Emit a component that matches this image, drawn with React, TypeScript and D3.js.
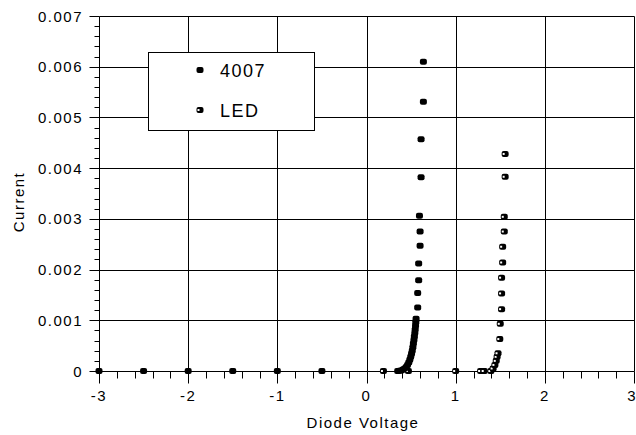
import React from "react";
import * as d3 from "d3";

// Series: [Diode Voltage (V), Current (A)]
const series4007: [number, number][] = [
  [-3, 0], [-2.5, 0], [-2, 0], [-1.5, 0], [-1, 0], [-0.5, 0],
  [0.35, 0], [0.37, 0.000003], [0.39, 0.00001], [0.41, 0.00003], [0.428, 0.00005],
  [0.445, 0.00008], [0.46, 0.00012], [0.474, 0.00017], [0.486, 0.00022],
  [0.496, 0.00028], [0.505, 0.00034], [0.513, 0.0004], [0.52, 0.00047],
  [0.526, 0.00054], [0.532, 0.00061], [0.537, 0.00068], [0.542, 0.00075],
  [0.546, 0.00082], [0.55, 0.00089], [0.553, 0.00096], [0.556, 0.00103],
  [0.574, 0.00125], [0.574, 0.00154], [0.585, 0.00179], [0.585, 0.00212],
  [0.601, 0.00247], [0.601, 0.00275], [0.594, 0.00306], [0.612, 0.00382],
  [0.612, 0.00457], [0.638, 0.00531], [0.638, 0.0061],
];

const seriesLED: [number, number][] = [
  [0.19, 0], [0.47, 0], [1.0, 0], [1.28, 0], [1.32, 0], [1.395, 0],
  [1.42, 0.00005], [1.44, 0.00012], [1.455, 0.0002], [1.465, 0.00028],
  [1.475, 0.00035], [1.495, 0.00063], [1.5, 0.00093], [1.515, 0.00122],
  [1.515, 0.00153], [1.515, 0.00184], [1.527, 0.00214], [1.527, 0.00245],
  [1.545, 0.00275], [1.545, 0.00304], [1.555, 0.00383], [1.555, 0.00428],
];

const xTicks = [-3, -2, -1, 0, 1, 2, 3];
const yTicks = [0, 0.001, 0.002, 0.003, 0.004, 0.005, 0.006, 0.007];
const yTickLabels = ["0", "0.001", "0.002", "0.003", "0.004", "0.005", "0.006", "0.007"];
const legendLabels = ["4007", "LED"];
const xTitle = "Diode Voltage";
const yTitle = "Current";

const W = 636;
const H = 435;
const FONT = "'Liberation Sans', Arial, sans-serif";

export default function App() {
  const x = d3.scaleLinear().domain([-3, 3]).range([99, 634]);
  const y = d3.scaleLinear().domain([0, 0.007]).range([371, 16]);
  const px = (v: number) => Math.round(v) + 0.5;

  const xMinor = d3.range(-3, 3.0001, 0.2).filter(
    (v) => Math.abs(v - Math.round(v)) > 1e-6
  );
  const yMinor = d3.range(0, 0.0070001, 0.0002).filter(
    (v) => Math.abs(v * 1000 - Math.round(v * 1000)) > 1e-6
  );

  const x0 = px(x(-3));
  const x1 = px(x(3));
  const y0 = px(y(0));
  const y1 = px(y(0.007));

  const marker = (cx: number, cy: number, led: boolean, key: string) => (
    <g key={key}>
      <rect x={cx - 3.5} y={cy - 3} width={7} height={6} rx={2} fill="#000" />
      {led && <rect x={cx - 2.5} y={cy - 1} width={2} height={2} fill="#fff" />}
    </g>
  );

  return (
    <svg
      width={W}
      height={H}
      style={{ position: "absolute", left: 0, top: 0, background: "#fff" }}
      fontFamily={FONT}
    >
      <rect x={0} y={0} width={W} height={H} fill="#fff" />
      {/* grid */}
      {xTicks.map((t) => (
        <line key={"gx" + t} x1={px(x(t))} x2={px(x(t))} y1={y1} y2={y0} stroke="#000" strokeWidth={1} />
      ))}
      {yTicks.map((t) => (
        <line key={"gy" + t} x1={x0} x2={x1} y1={px(y(t))} y2={px(y(t))} stroke="#000" strokeWidth={1} />
      ))}
      {/* x ticks */}
      {xTicks.map((t) => (
        <line key={"tx" + t} x1={px(x(t))} x2={px(x(t))} y1={y0} y2={y0 + 12} stroke="#000" />
      ))}
      {xMinor.map((t, i) => (
        <line key={"mx" + i} x1={px(x(t))} x2={px(x(t))} y1={y0} y2={y0 + 7} stroke="#000" />
      ))}
      {/* y ticks */}
      {yTicks.map((t) => (
        <line key={"ty" + t} x1={x0 - 10} x2={x0} y1={px(y(t))} y2={px(y(t))} stroke="#000" />
      ))}
      {yMinor.map((t, i) => (
        <line key={"my" + i} x1={x0 - 5} x2={x0} y1={px(y(t))} y2={px(y(t))} stroke="#000" />
      ))}
      {/* tick labels */}
      {xTicks.map((t, i) => {
        const last = i === xTicks.length - 1;
        return (
          <text
            key={"lx" + t}
            x={last ? W - 0.5 : x(t)}
            y={401}
            textAnchor={last ? "end" : "middle"}
            fontSize={15}
            letterSpacing={last ? 0 : 1.5}
            fill="#000"
          >
            {String(t)}
          </text>
        );
      })}
      {yTicks.map((t, i) => (
        <text key={"ly" + t} x={83} y={y(t) + 5.5} textAnchor="end" fontSize={15} letterSpacing={1.5} fill="#000">
          {yTickLabels[i]}
        </text>
      ))}
      {/* axis titles */}
      <text x={363} y={428} textAnchor="middle" fontSize={15} letterSpacing={1.5} fill="#000">
        {xTitle}
      </text>
      <text
        transform={`translate(24, 202) rotate(-90)`}
        textAnchor="middle"
        fontSize={15}
        letterSpacing={1.5}
        fill="#000"
      >
        {yTitle}
      </text>
      {/* data */}
      {seriesLED.map((d, i) => marker(x(d[0]), y(d[1]), true, "l" + i))}
      {series4007.map((d, i) => marker(x(d[0]), y(d[1]), false, "a" + i))}
      {/* legend */}
      <rect x={148.5} y={52.5} width={166} height={78} fill="#fff" stroke="#000" strokeWidth={1} />
      {marker(200, 70, false, "leg0")}
      <text x={220} y={76.5} fontSize={18} letterSpacing={1.5} fill="#000">
        {legendLabels[0]}
      </text>
      {marker(200, 110, true, "leg1")}
      <text x={220} y={116.5} fontSize={18} letterSpacing={1.5} fill="#000">
        {legendLabels[1]}
      </text>
    </svg>
  );
}
